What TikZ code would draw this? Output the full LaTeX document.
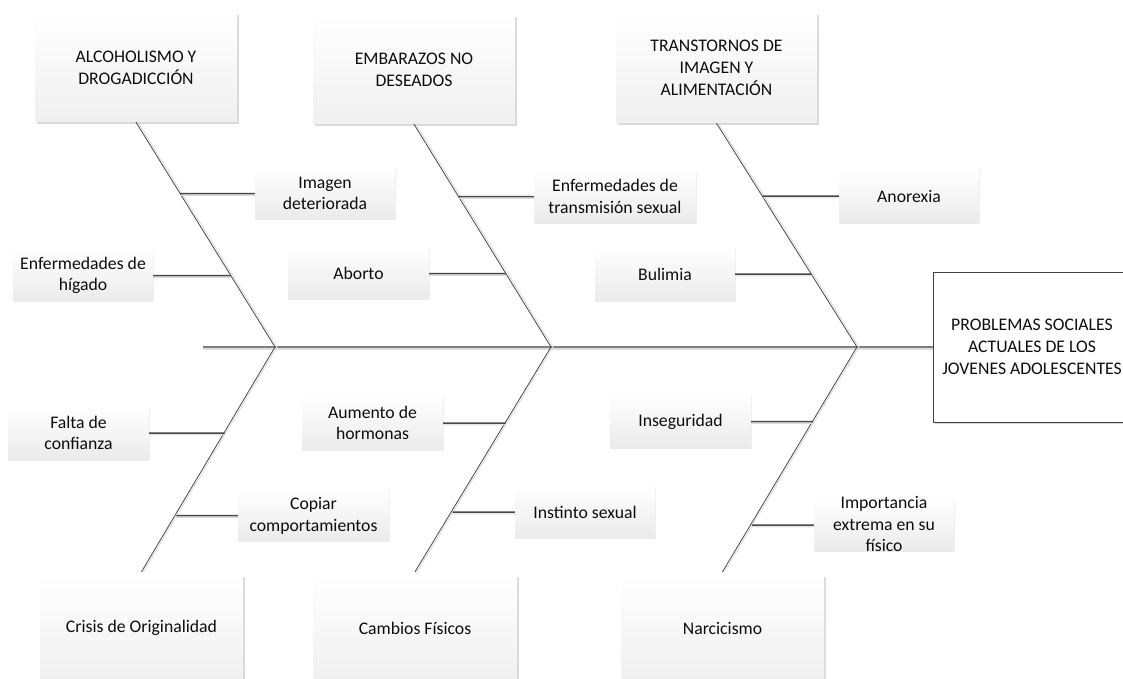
\documentclass[tikz,border=0pt]{standalone}
\usepackage{fontspec}
\setmainfont{Carlito}
\begin{document}
\begin{tikzpicture}[x=1pt,y=-1pt,
  every node/.style={font=\fontsize{17.7}{21.7}\selectfont, text=black!95, align=center, inner sep=0pt},
  bigbox/.style={top color=white, bottom color=black!6, draw=none,
    preaction={fill=black!15, transform canvas={shift={(1.6pt,-1.6pt)}}}},
  lbl/.style={top color=white, bottom color=black!8, draw=none,
    preaction={fill=black!6, transform canvas={shift={(1pt,-1pt)}}}},
  headbox/.style={fill=white, draw=black!75, line width=0.8pt,
    preaction={fill=black!15, transform canvas={shift={(1.5pt,-1.5pt)}}}},
  spine/.style={draw=black!50, line width=1.1pt,
    preaction={draw=black!13, line width=1.1pt, transform canvas={shift={(0pt,-2pt)}}}},
  bone/.style={draw=black!72, line width=0.8pt,
    preaction={draw=black!14, line width=0.8pt, transform canvas={shift={(2pt,0pt)}}}},
  sub/.style={draw=black!72, line width=1.5pt,
    preaction={draw=black!14, line width=1pt, transform canvas={shift={(0pt,-1.8pt)}}}}
]
\useasboundingbox (0,0) rectangle (1123,679);

% category boxes
\node[bigbox, minimum width=202, minimum height=109] (A) at (136,67.5) {ALCOHOLISMO Y\\DROGADICCIÓN};
\node[bigbox, minimum width=202, minimum height=109] (B) at (414,69.5) {EMBARAZOS NO\\DESEADOS};
\node[bigbox, minimum width=201, minimum height=110] (C) at (716.5,68) {TRANSTORNOS DE\\IMAGEN Y\\ALIMENTACIÓN};
\node[bigbox, minimum width=203, minimum height=106] (D) at (141.5,628) {Crisis de Originalidad};
\node[bigbox, minimum width=204, minimum height=106] (E) at (415,628) {Cambios Físicos};
\node[bigbox, minimum width=203, minimum height=106] (F) at (722.5,628) {Narcicismo};

% head
\node[headbox, minimum width=198, minimum height=150] (P) at (1032,347) {PROBLEMAS SOCIALES\\ACTUALES DE LOS\\JOVENES ADOLESCENTES};

% cause labels
\node[lbl, minimum width=140, minimum height=51] (L1) at (325,193.5) {Imagen\\deteriorada};
\node[lbl, minimum width=140, minimum height=51] (L2) at (83,275.5) {Enfermedades de\\hígado};
\node[lbl, minimum width=141, minimum height=51] (L3) at (358.5,273.5) {Aborto};
\node[lbl, minimum width=162, minimum height=53] (L4) at (615,196.5) {Enfermedades de\\transmisión sexual};
\node[lbl, minimum width=140, minimum height=54] (L5) at (909,196) {Anorexia};
\node[lbl, minimum width=140, minimum height=54] (L6) at (665,274) {Bulimia};
\node[lbl, minimum width=141, minimum height=54] (L7) at (78.5,433) {Falta de\\confianza};
\node[lbl, minimum width=151, minimum height=51] (L8) at (313.5,515.5) {Copiar\\comportamientos};
\node[lbl, minimum width=141, minimum height=54] (L9) at (372.5,423) {Aumento de\\hormonas};
\node[lbl, minimum width=140, minimum height=52] (L10) at (585,512) {Instinto sexual};
\node[lbl, minimum width=141, minimum height=53] (L11) at (680.5,421.5) {Inseguridad};
\node[lbl, minimum width=140, minimum height=52] (L12) at (884,525) {};
\node (L12t) at (884,524) {Importancia\\extrema en su\\físico};

% spine and junctions
\coordinate (S0) at (203,347);
\coordinate (J1) at (275,347);
\coordinate (J2) at (551,347);
\coordinate (J3) at (857,347);
\draw[spine] (S0) -- (P.west);

% bones
\draw[bone] (A.south) -- (J1);
\draw[bone] (B.south) -- (J2);
\draw[bone] (C.south) -- (J3);
\draw[bone] (J1) -- ([yshift=3pt]D.north);
\draw[bone] (J2) -- ([yshift=3pt]E.north);
\draw[bone] (J3) -- ([yshift=3pt]F.north);

% sub branches
\draw[sub] (L1.west) -- (intersection of A.south--J1 and L1.west--L1.east);
\draw[sub] (L2.east) -- (intersection of A.south--J1 and L2.west--L2.east);
\draw[sub] (L3.east) -- (intersection of B.south--J2 and L3.west--L3.east);
\draw[sub] (L4.west) -- (intersection of B.south--J2 and L4.west--L4.east);
\draw[sub] (L5.west) -- (intersection of C.south--J3 and L5.west--L5.east);
\draw[sub] (L6.east) -- (intersection of C.south--J3 and L6.west--L6.east);
\draw[sub] (L7.east) -- (intersection of J1--D.north and L7.west--L7.east);
\draw[sub] (L8.west) -- (intersection of J1--D.north and L8.west--L8.east);
\draw[sub] (L9.east) -- (intersection of J2--E.north and L9.west--L9.east);
\draw[sub] (L10.west) -- (intersection of J2--E.north and L10.west--L10.east);
\draw[sub] (L11.east) -- (intersection of J3--F.north and L11.west--L11.east);
\draw[sub] (L12.west) -- (intersection of J3--F.north and L12.west--L12.east);
\end{tikzpicture}
\end{document}
